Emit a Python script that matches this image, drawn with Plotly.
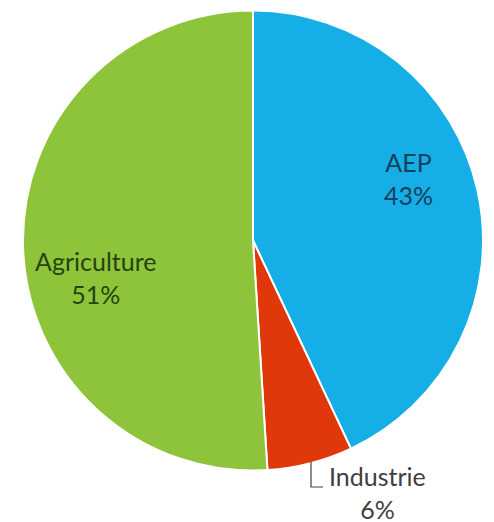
import plotly.graph_objects as go

labels = ["AEP", "Industrie", "Agriculture"]
values = [43, 6, 51]
colors = ["#16AEE6", "#E0380A", "#8DC43A"]
text_colors = ["#173F5C", "#404040", "#27420F"]

W, H = 486, 514
OFF = 8  # page body margin in the browser


def px(x):
    return (x - OFF) / W


def py(y):
    return 1 - (y - OFF) / H


fig = go.Figure(go.Pie(
    labels=labels,
    values=values,
    sort=False,
    direction="clockwise",
    rotation=0,
    marker=dict(colors=colors, line=dict(color="white", width=2)),
    textinfo="none",
    hoverinfo="label+percent",
    showlegend=False,
    domain=dict(x=[px(23), px(483)], y=[py(472), py(9)]),
))

total = sum(values)
pos = {"AEP": (408, 179), "Industrie": (377, 492), "Agriculture": (96, 277)}
for lab, val, tc in zip(labels, values, text_colors):
    x, y = pos[lab]
    fig.add_annotation(
        x=px(x), y=py(y), xref="paper", yref="paper",
        xanchor="center", yanchor="middle",
        text=f"{lab}<br>{round(100 * val / total)}%",
        showarrow=False,
        font=dict(family="Lato, Open Sans, sans-serif", size=25, color=tc),
        align="center",
    )

fig.add_shape(
    type="path", xref="paper", yref="paper",
    path=f"M {px(311)} {py(462)} L {px(311)} {py(487)} L {px(323)} {py(487)}",
    line=dict(color="#404040", width=1.2),
)

fig.update_layout(
    width=W, height=H,
    margin=dict(l=0, r=0, t=0, b=0),
    paper_bgcolor="white",
    plot_bgcolor="white",
)

fig.write_html("out.html")
